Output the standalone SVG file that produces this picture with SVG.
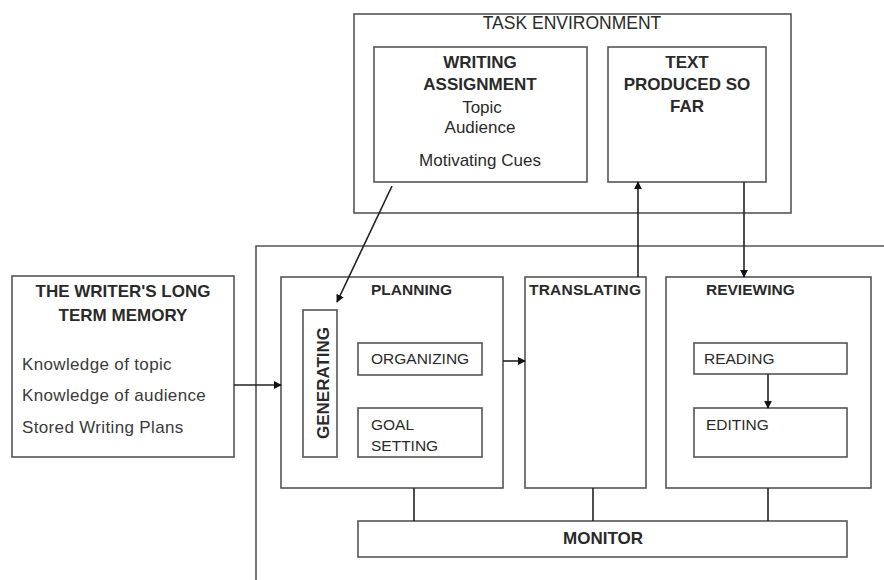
<svg xmlns="http://www.w3.org/2000/svg" width="884" height="580" viewBox="0 0 884 580">
<style>
.box{fill:#fff;stroke:#555;stroke-width:1.6}
.open{fill:none;stroke:#555;stroke-width:1.6}
.t{font-family:"Liberation Sans",Arial,sans-serif;fill:#2a2a2a}
.b{font-weight:bold}
.h{font-size:17px}
.m{font-size:15.5px}
.c{text-anchor:middle}
.k{font-size:17px;letter-spacing:0.35px;fill:#3a3a3a}
.con{stroke:#222;stroke-width:1.6;fill:none}
</style>
<defs>
<marker id="arr" viewBox="0 0 10 10" refX="9" refY="5" markerWidth="8" markerHeight="8" markerUnits="userSpaceOnUse" orient="auto">
<path d="M0,0 L10,5 L0,10 z" fill="#111"/>
</marker>
</defs>
<rect width="884" height="580" fill="#fff"/>

<g id="task-environment">
<rect class="box" x="354" y="14" width="437" height="199"/>
<text class="t c" x="572" y="29" font-size="17.5">TASK ENVIRONMENT</text>
</g>
<g id="writing-assignment">
<rect class="box" x="374" y="47" width="213" height="135"/>
<text class="t b h c" x="480" y="68">WRITING</text>
<text class="t b h c" x="480" y="90">ASSIGNMENT</text>
<text class="t h c" x="482" y="113">Topic</text>
<text class="t h c" x="480" y="133">Audience</text>
<text class="t h c" x="480" y="166">Motivating Cues</text>
</g>
<g id="text-produced">
<rect class="box" x="608" y="47" width="158" height="135"/>
<text class="t b h c" x="687" y="68">TEXT</text>
<text class="t b h c" x="687" y="90">PRODUCED SO</text>
<text class="t b h c" x="687" y="112">FAR</text>
</g>

<g id="writing-process">
<path class="open" d="M884,246 H256 V580"/>
</g>

<g id="long-term-memory">
<rect class="box" x="12" y="276" width="222" height="181"/>
<text class="t b h c" x="123" y="297">THE WRITER'S LONG</text>
<text class="t b h c" x="123" y="321">TERM MEMORY</text>
<text class="t k" x="22" y="370">Knowledge of topic</text>
<text class="t k" x="22" y="401">Knowledge of audience</text>
<text class="t k" x="22" y="433">Stored Writing Plans</text>
</g>

<g id="planning">
<rect class="box" x="281" y="277" width="222" height="211"/>
<text class="t b m" x="371" y="295">PLANNING</text>
</g>
<g id="generating">
<rect class="box" x="303" y="310" width="34" height="147"/>
<text class="t b h c" x="329" y="383" transform="rotate(-90 329 383)">GENERATING</text>
</g>
<g id="organizing">
<rect class="box" x="358" y="343" width="124" height="32"/>
<text class="t m" x="371" y="364">ORGANIZING</text>
</g>
<g id="goal-setting">
<rect class="box" x="358" y="408" width="124" height="49"/>
<text class="t m" x="371" y="430">GOAL</text>
<text class="t m" x="371" y="451">SETTING</text>
</g>

<g id="translating">
<rect class="box" x="525" y="277" width="121" height="211"/>
<text class="t b m" x="529" y="295" textLength="112">TRANSLATING</text>
</g>

<g id="reviewing">
<rect class="box" x="666" y="277" width="205" height="211"/>
<text class="t b m" x="706" y="295">REVIEWING</text>
</g>
<g id="reading">
<rect class="box" x="694" y="343" width="153" height="31"/>
<text class="t m" x="704" y="364">READING</text>
</g>
<g id="editing">
<rect class="box" x="694" y="408" width="153" height="49"/>
<text class="t m" x="706" y="430">EDITING</text>
</g>

<g id="monitor">
<rect class="box" x="358" y="521" width="489" height="36"/>
<text class="t b h c" x="603" y="544">MONITOR</text>
</g>

<g id="connectors">
<line class="con" x1="392" y1="186" x2="337" y2="302" marker-end="url(#arr)"/>
<line class="con" x1="638" y1="277" x2="638" y2="182" marker-end="url(#arr)"/>
<line class="con" x1="744" y1="182" x2="744" y2="277" marker-end="url(#arr)"/>
<line class="con" x1="234" y1="385" x2="281" y2="385" marker-end="url(#arr)"/>
<line class="con" x1="503" y1="361" x2="525" y2="361" marker-end="url(#arr)"/>
<line class="con" x1="768" y1="374" x2="768" y2="408" marker-end="url(#arr)"/>
<line class="con" x1="414" y1="488" x2="414" y2="521"/>
<line class="con" x1="593" y1="488" x2="593" y2="521"/>
<line class="con" x1="768" y1="488" x2="768" y2="521"/>
</g>
</svg>
